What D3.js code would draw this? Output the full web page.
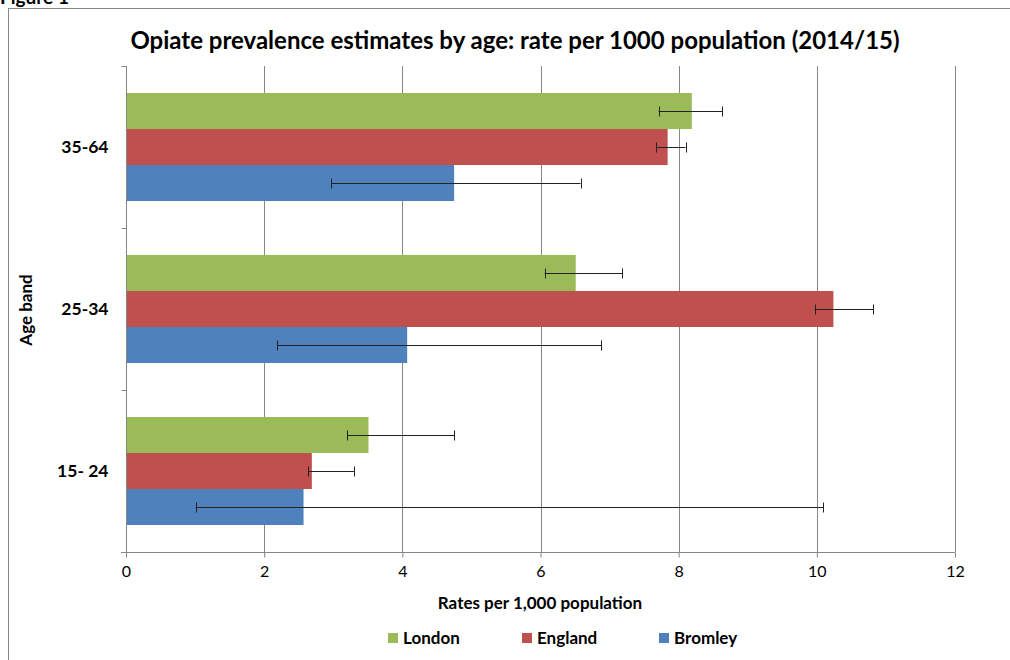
<!DOCTYPE html>
<html><head><meta charset="utf-8">
<script src="https://cdn.jsdelivr.net/npm/d3@7"></script>
<style>body{margin:0;background:#fff;}svg{display:block;font-family:Lato,"Open Sans",sans-serif;}</style>
</head><body>
<script>
const categories = ["35-64", "25-34", "15- 24"];
const seriesNames = ["London", "England", "Bromley"];
const london = [8.19, 6.51, 3.51];
const londonLow = [7.71, 6.06, 3.20];
const londonHigh = [8.63, 7.18, 4.75];
const england = [7.84, 10.24, 2.69];
const englandLow = [7.67, 9.97, 2.64];
const englandHigh = [8.10, 10.82, 3.30];
const bromley = [4.75, 4.07, 2.57];
const bromleyLow = [2.97, 2.19, 1.01];
const bromleyHigh = [6.58, 6.88, 10.09];
const xTicks = [0, 2, 4, 6, 8, 10, 12];
const colors = ["#9BBB59", "#C0504D", "#4F81BD"];

(function () {
const W = 1010, H = 660;
const svg = d3.select("body").append("svg").attr("width", W).attr("height", H);

// frame
svg.append("rect").attr("x", 8.5).attr("y", 8.5).attr("width", W + 10).attr("height", H + 10)
  .attr("fill", "none").attr("stroke", "#868686").attr("stroke-width", 1);
svg.append("text").attr("x", 0).attr("y", 4).attr("font-weight", "bold").attr("font-size", 19)
  .attr("fill", "#000").text("Figure 1");

const pLeft = 126, pRight = 955, pTop = 66, pBottom = 552;
const x = d3.scaleLinear().domain([0, 12]).range([pLeft, pRight]);
const y = d3.scaleBand().domain(categories).range([pTop, pBottom]).paddingInner(0.3333).paddingOuter(0.1667);
const ySub = d3.scaleBand().domain(seriesNames).range([0, y.bandwidth()]);

// gridlines
svg.append("g").selectAll("line").data(xTicks.slice(1)).join("line")
  .attr("x1", d => Math.round(x(d)) + 0.5).attr("x2", d => Math.round(x(d)) + 0.5)
  .attr("y1", pTop).attr("y2", pBottom).attr("stroke", "#868686").attr("stroke-width", 1);

// x axis
const xAxis = svg.append("g").attr("transform", `translate(0,${pBottom + 0.5})`)
  .call(d3.axisBottom(x).tickValues(xTicks).tickSize(5).tickPadding(8));
xAxis.select(".domain").attr("stroke", "#868686").attr("d", `M${pLeft - 5},0H${pRight}`);
xAxis.selectAll(".tick line").attr("stroke", "#868686");
xAxis.selectAll("text").attr("font-size", 16).attr("fill", "#000").attr("font-family", "Lato, sans-serif");

// y axis
const yAxisG = svg.append("g").attr("transform", `translate(${pLeft + 0.5},0)`);
yAxisG.append("line").attr("x1", 0).attr("x2", 0).attr("y1", pTop).attr("y2", pBottom).attr("stroke", "#868686");
const bounds = [pTop, ...categories.map(c => y(c) + y.bandwidth() + y.step() * y.paddingInner() / 2).slice(0, 2), pBottom];
yAxisG.selectAll("line.tk").data(bounds).join("line").attr("class", "tk")
  .attr("x1", -5).attr("x2", 0).attr("y1", d => Math.round(d) + 0.5).attr("y2", d => Math.round(d) + 0.5)
  .attr("stroke", "#868686");
yAxisG.selectAll("text").data(categories).join("text")
  .attr("x", -18).attr("y", d => y(d) + y.bandwidth() / 2).attr("dy", "0.35em")
  .attr("text-anchor", "end").attr("font-weight", "bold").attr("font-size", 17.5).text(d => d);

// bars
const series = [
  { name: "London", vals: london, lo: londonLow, hi: londonHigh },
  { name: "England", vals: england, lo: englandLow, hi: englandHigh },
  { name: "Bromley", vals: bromley, lo: bromleyLow, hi: bromleyHigh }
];
series.forEach((s, si) => {
  const g = svg.append("g");
  g.selectAll("rect").data(categories).join("rect")
    .attr("x", pLeft + 1).attr("y", (c) => y(c) + ySub(s.name))
    .attr("width", (c, i) => x(s.vals[i]) - pLeft - 1).attr("height", ySub.bandwidth())
    .attr("fill", colors[si]);
});
// error bars on top
series.forEach((s, si) => {
  const g = svg.append("g").attr("stroke", "#222").attr("stroke-width", 1);
  categories.forEach((c, i) => {
    const cy = Math.round(y(c) + ySub(s.name) + ySub.bandwidth() / 2) + 0.5;
    g.append("line").attr("x1", x(s.lo[i])).attr("x2", x(s.hi[i])).attr("y1", cy).attr("y2", cy);
    [s.lo[i], s.hi[i]].forEach(v => {
      g.append("line").attr("x1", Math.round(x(v)) + 0.5).attr("x2", Math.round(x(v)) + 0.5)
        .attr("y1", cy - 5).attr("y2", cy + 5);
    });
  });
});

// title
svg.append("text").attr("x", 515).attr("y", 49).attr("text-anchor", "middle")
  .attr("font-weight", "bold").attr("font-size", 24)
  .text("Opiate prevalence estimates by age: rate per 1000 population (2014/15)");
// axis titles
svg.append("text").attr("x", 540).attr("y", 609).attr("text-anchor", "middle")
  .attr("font-weight", "bold").attr("font-size", 17).text("Rates per 1,000 population");
svg.append("text").attr("transform", "translate(32,310) rotate(-90)").attr("text-anchor", "middle")
  .attr("font-weight", "bold").attr("font-size", 17).text("Age band");

// legend
const legendX = [388, 522, 659];
const lg = svg.append("g");
seriesNames.forEach((n, i) => {
  lg.append("rect").attr("x", legendX[i]).attr("y", 633).attr("width", 10).attr("height", 10).attr("fill", colors[i]);
  lg.append("text").attr("x", legendX[i] + 15).attr("y", 644).attr("font-weight", "bold").attr("font-size", 17).text(n);
});
})();
</script>
</body></html>
